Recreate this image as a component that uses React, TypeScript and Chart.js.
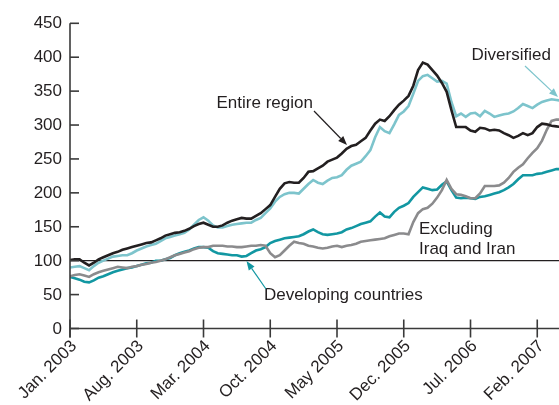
import React, { useEffect, useRef } from "react";
import { Chart, registerables } from "chart.js";

Chart.register(...registerables);

// months since Jan. 2003, sampled every half month
const STEP = 0.5;

const entireRegion = [
  101, 102, 102, 97, 93, 97, 102, 105, 108, 111, 113, 116, 118, 120, 122, 124, 126, 127, 130, 133,
  137, 139, 141, 142, 144, 147, 151, 154, 156, 153, 150, 150, 152, 156, 159, 161, 163, 162, 162, 166,
  170, 176, 182, 194, 206, 214, 216, 215, 215, 222, 231, 232, 236, 240, 246, 249, 252, 258, 265, 269,
  271, 276, 281, 292, 302, 308, 306, 313, 322, 330, 336, 343, 358, 381, 392, 389, 381, 373, 362, 349,
  322, 297, 297, 297, 292, 290, 296, 295, 292, 293, 292, 288, 285, 281, 284, 288, 285, 288, 297, 302,
  301, 299, 298, 297,
];

const diversified = [
  90, 91, 92, 89, 86, 92, 97, 100, 103, 106, 107, 108, 108, 111, 115, 118, 121, 123, 125, 129,
  133, 135, 137, 139, 141, 146, 153, 160, 164, 159, 152, 149, 149, 151, 153, 154, 155, 156, 156, 160,
  163, 170, 177, 187, 194, 198, 200, 200, 199, 206, 213, 219, 215, 213, 218, 222, 223, 226, 234, 240,
  243, 246, 254, 263, 282, 297, 291, 288, 301, 315, 320, 328, 346, 365, 372, 374, 369, 364, 365, 361,
  334, 313, 317, 312, 317, 318, 313, 321, 317, 312, 314, 316, 317, 320, 325, 331, 328, 325, 330, 334,
  336, 338, 337, 336,
];

const developing = [
  76, 74, 72, 69, 68, 71, 75, 77, 80, 83, 85, 87, 89, 90, 92, 94, 96, 97, 100, 100,
  102, 104, 108, 111, 113, 115, 118, 120, 120, 119, 114, 111, 110, 109, 108, 108, 106, 107, 111, 115,
  117, 120, 126, 129, 131, 133, 134, 135, 136, 139, 143, 146, 142, 139, 138, 139, 140, 142, 146, 148,
  151, 154, 156, 158, 165, 171, 165, 164, 172, 178, 181, 185, 194, 201, 208, 206, 204, 205, 212, 217,
  204, 193, 192, 193, 192, 191, 194, 195, 197, 199, 201, 204, 208, 213, 220, 226, 226, 226, 228, 229,
  231, 233, 235, 235,
];

const excludingIraqIran = [
  77, 79, 80, 78, 76, 80, 83, 85, 87, 89, 91, 90, 89, 91, 92, 94, 95, 97, 98, 100,
  102, 105, 108, 110, 112, 114, 117, 119, 120, 120, 122, 122, 122, 121, 121, 120, 120, 121, 122, 122,
  123, 122, 111, 105, 108, 115, 122, 128, 126, 125, 122, 121, 119, 118, 119, 121, 122, 120, 122, 123,
  125, 128, 129, 130, 131, 132, 133, 136, 138, 140, 140, 139, 157, 170, 176, 178, 184, 193, 204, 219,
  206, 198, 197, 195, 192, 192, 199, 210, 210, 210, 211, 215, 222, 231, 237, 242, 251, 259, 266, 277,
  293, 306, 308, 308,
];

const tickMonths = [0, 7, 14, 21, 28, 35, 42, 49];
const tickLabels = [
  "Jan. 2003",
  "Aug. 2003",
  "Mar. 2004",
  "Oct. 2004",
  "May 2005",
  "Dec. 2005",
  "Jul. 2006",
  "Feb. 2007",
];
const yTicks = [0, 50, 100, 150, 200, 250, 300, 350, 400, 450];

const BLACK = "#231f20";
const LIGHT_TEAL = "#7dc4cc";
const DARK_TEAL = "#1297a2";
const GRAY = "#8b8b8d";
const FONT = '17px "Liberation Sans", Arial, Helvetica, sans-serif';

const toPoints = (arr: number[]) => arr.map((v, i) => ({ x: i * STEP, y: v }));

function arrow(ctx: CanvasRenderingContext2D, x1: number, y1: number, x2: number, y2: number, color: string) {
  ctx.save();
  ctx.strokeStyle = color;
  ctx.fillStyle = color;
  ctx.lineWidth = 1.2;
  const ang = Math.atan2(y2 - y1, x2 - x1);
  const hl = 9;
  const hw = 3.5;
  const bx = x2 - hl * Math.cos(ang);
  const by = y2 - hl * Math.sin(ang);
  ctx.beginPath();
  ctx.moveTo(x1, y1);
  ctx.lineTo(bx, by);
  ctx.stroke();
  ctx.beginPath();
  ctx.moveTo(x2, y2);
  ctx.lineTo(bx + hw * Math.sin(ang), by - hw * Math.cos(ang));
  ctx.lineTo(bx - hw * Math.sin(ang), by + hw * Math.cos(ang));
  ctx.closePath();
  ctx.fill();
  ctx.restore();
}

const decorPlugin = {
  id: "decor",
  beforeDatasetsDraw(chart: any) {
    const { ctx, scales } = chart;
    const xs = scales.x;
    const ys = scales.y;
    const left = xs.getPixelForValue(0);
    const right = chart.width;
    ctx.save();
    // reference line at 100
    const y100 = ys.getPixelForValue(100);
    ctx.strokeStyle = BLACK;
    ctx.lineWidth = 1.2;
    ctx.beginPath();
    ctx.moveTo(left, y100);
    ctx.lineTo(right, y100);
    ctx.stroke();
    ctx.restore();
  },
  afterDraw(chart: any) {
    const { ctx, scales } = chart;
    const xs = scales.x;
    const ys = scales.y;
    const left = xs.getPixelForValue(0);
    const right = chart.width;
    const y0 = ys.getPixelForValue(0);
    const yTop = ys.getPixelForValue(450);
    ctx.save();
    ctx.strokeStyle = "#3a3a3a";
    ctx.lineWidth = 1.6;
    // y axis
    ctx.beginPath();
    ctx.moveTo(left, yTop);
    ctx.lineTo(left, y0 + 9);
    ctx.stroke();
    // x axis
    ctx.beginPath();
    ctx.moveTo(left, y0);
    ctx.lineTo(right, y0);
    ctx.stroke();
    // y ticks and labels
    ctx.font = FONT;
    ctx.fillStyle = BLACK;
    ctx.textAlign = "right";
    ctx.textBaseline = "middle";
    yTicks.forEach((v) => {
      const y = ys.getPixelForValue(v);
      ctx.beginPath();
      ctx.moveTo(left, y);
      ctx.lineTo(left + 9, y);
      ctx.stroke();
      ctx.fillText(String(v), left - 8, y + 0.5);
    });
    // x ticks and labels
    tickMonths.forEach((m, i) => {
      const x = xs.getPixelForValue(m);
      ctx.beginPath();
      ctx.moveTo(x, y0 - 9);
      ctx.lineTo(x, y0 + 9);
      ctx.stroke();
      ctx.save();
      ctx.translate(x + 4, y0 + 15);
      ctx.rotate(-Math.PI / 4);
      ctx.textAlign = "right";
      ctx.textBaseline = "middle";
      ctx.fillText(tickLabels[i], 0, 0);
      ctx.restore();
    });
    // annotations
    ctx.textAlign = "left";
    ctx.textBaseline = "alphabetic";
    ctx.fillStyle = BLACK;
    ctx.fillText("Entire region", 216.5, 108);
    ctx.fillText("Diversified", 471.5, 60);
    ctx.fillText("Excluding", 419, 234);
    ctx.fillText("Iraq and Iran", 419, 254);
    ctx.fillText("Developing countries", 264, 300);
    ctx.restore();
    arrow(ctx, 314, 111, 347, 145, BLACK);
    arrow(ctx, 525, 66, 558, 97, LIGHT_TEAL);
    arrow(ctx, 266, 289, 246.5, 261, DARK_TEAL);
  },
};

export default function App() {
  const ref = useRef<HTMLCanvasElement | null>(null);
  useEffect(() => {
    if (!ref.current) return;
    const ds = (label: string, data: number[], color: string, order: number) => ({
      label,
      data: toPoints(data),
      borderColor: color,
      backgroundColor: color,
      borderWidth: 2.6,
      pointRadius: 0,
      tension: 0,
      order,
    });
    const chart = new Chart(ref.current, {
      type: "line",
      data: {
        datasets: [
          ds("Entire region", entireRegion, BLACK, 1),
          ds("Diversified", diversified, LIGHT_TEAL, 2),
          ds("Excluding Iraq and Iran", excludingIraqIran, GRAY, 3),
          ds("Developing countries", developing, DARK_TEAL, 4),
        ],
      },
      options: {
        animation: false,
        responsive: false,
        devicePixelRatio: 1,
        layout: { padding: { left: 70, right: 0, top: 23.3, bottom: 76.5 } },
        plugins: { legend: { display: false }, tooltip: { enabled: false }, title: { display: false } },
        scales: {
          x: { type: "linear", min: 0, max: 51.28, display: false },
          y: { type: "linear", min: 0, max: 450, display: false },
        },
      },
      plugins: [decorPlugin],
    });
    return () => chart.destroy();
  }, []);
  return (
    <div style={{ position: "absolute", left: 0, top: 0, width: 559, height: 405, background: "#fff" }}>
      <canvas ref={ref} width={559} height={405} />
    </div>
  );
}
